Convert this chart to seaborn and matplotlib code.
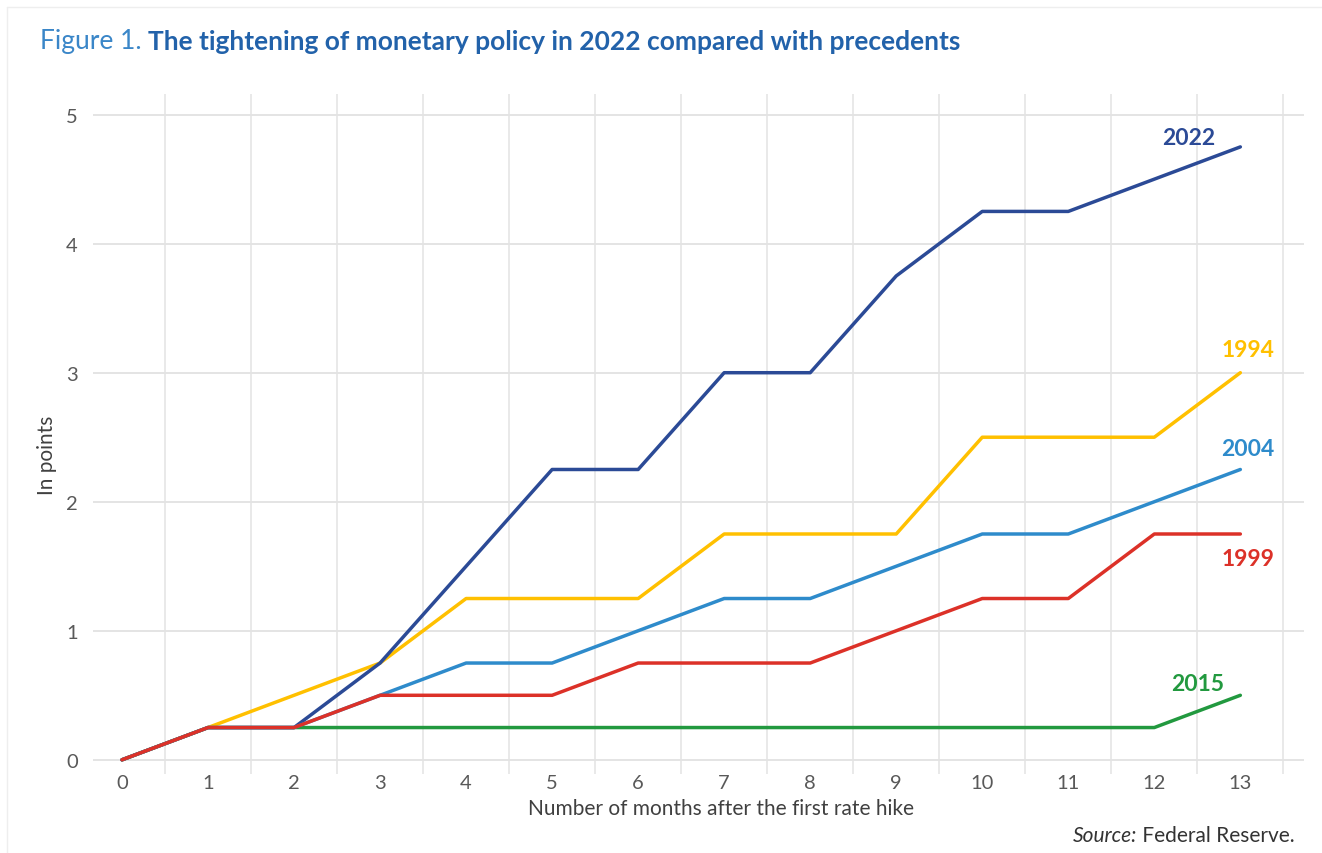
import matplotlib
matplotlib.use("Agg")
import matplotlib.pyplot as plt
import seaborn as sns
import pandas as pd

# ---- data ----
months = list(range(14))
s2022 = [0, 0.25, 0.25, 0.75, 1.5, 2.25, 2.25, 3.0, 3.0, 3.75, 4.25, 4.25, 4.5, 4.75]
s1994 = [0, 0.25, 0.5, 0.75, 1.25, 1.25, 1.25, 1.75, 1.75, 1.75, 2.5, 2.5, 2.5, 3.0]
s2004 = [0, 0.25, 0.25, 0.5, 0.75, 0.75, 1.0, 1.25, 1.25, 1.5, 1.75, 1.75, 2.0, 2.25]
s1999 = [0, 0.25, 0.25, 0.5, 0.5, 0.5, 0.75, 0.75, 0.75, 1.0, 1.25, 1.25, 1.75, 1.75]
s2015 = [0, 0.25, 0.25, 0.25, 0.25, 0.25, 0.25, 0.25, 0.25, 0.25, 0.25, 0.25, 0.25, 0.5]
y_ticks = [0, 1, 2, 3, 4, 5]

series = {"2015": s2015, "1994": s1994, "2022": s2022, "2004": s2004, "1999": s1999}
colors = {"2022": "#2B4A96", "1994": "#FFC000", "2004": "#2E8BCB",
          "1999": "#DC3128", "2015": "#22993F"}

rows = []
for name, vals in series.items():
    for m, v in zip(months, vals):
        rows.append({"month": m, "value": v, "series": name})
df = pd.DataFrame(rows)

sns.set_style("white")
plt.rcParams["font.family"] = ["Lato", "DejaVu Sans"]

fig = plt.figure(figsize=(13.22, 8.54), dpi=100)
ax = fig.add_axes([93 / 1322, (854 - 775) / 854, (1304 - 93) / 1322, 680 / 854])

sns.lineplot(data=df, x="month", y="value", hue="series",
             hue_order=list(series.keys()), palette=colors,
             linewidth=2.5, ax=ax, legend=False)

ax.set_xlim(-0.337, 13.74)
ax.set_ylim(-0.11, 5.16)
for s in ax.spines.values():
    s.set_visible(False)

# grid
for yv in y_ticks:
    ax.axhline(yv, color="#DCDCDC", lw=1.1, zorder=0)
for k in range(14):
    ax.axvline(k + 0.5, color="#E3E3E3", lw=1.1, zorder=0)

ax.set_xticks(months)
ax.set_xticklabels([str(m) for m in months])
ax.set_yticks(y_ticks)
ax.set_yticklabels([str(t) for t in y_ticks])
ax.tick_params(axis="both", length=0, labelsize=14.5, labelcolor="#595959")
ax.tick_params(axis="x", pad=0)
ax.tick_params(axis="y", pad=11)

ax.set_xlabel("Number of months after the first rate hike", fontsize=15, color="#404040")
ax.xaxis.set_label_coords((721 - 93) / (1304 - 93), -0.036)
ax.set_ylabel("In points", fontsize=15, color="#404040")
ax.yaxis.set_label_coords(-0.03, 0.47)

# series labels
lab = {"2022": (12.4, 4.82),
       "1994": (13.09, 3.18),
       "2004": (13.09, 2.41),
       "1999": (13.09, 1.56),
       "2015": (12.5, 0.59)}
for name, (xx, yy) in lab.items():
    ax.text(xx, yy, name, color=colors[name], fontsize=16.5, fontweight="bold",
            ha="center", va="center")

# title
t1 = fig.text(40 / 1322, 1 - 42 / 854, "Figure 1. ", color="#3A86C8", fontsize=19, va="center")
fig.canvas.draw()
r = fig.canvas.get_renderer()
bb = t1.get_window_extent(renderer=r)
fig.text(bb.x1 / 1322, 1 - 42 / 854,
         "The tightening of monetary policy in 2022 compared with precedents",
         color="#2262AA", fontsize=19, fontweight="bold", va="center")

# source
t2 = fig.text(1295 / 1322, 1 - 836 / 854, " Federal Reserve.", color="#333333",
              fontsize=15, ha="right", va="center")
fig.canvas.draw()
bb2 = t2.get_window_extent(renderer=r)
fig.text(bb2.x0 / 1322, 1 - 836 / 854, "Source:", color="#333333", fontsize=15,
         style="italic", ha="right", va="center")

# faint frame
fig.add_artist(plt.Line2D([7 / 1322, 7 / 1322], [0, 1 - 8 / 854], color="#EEEEEE", lw=1))
fig.add_artist(plt.Line2D([7 / 1322, 1], [1 - 8 / 854, 1 - 8 / 854], color="#EEEEEE", lw=1))

fig.savefig("out.png", dpi=100)
